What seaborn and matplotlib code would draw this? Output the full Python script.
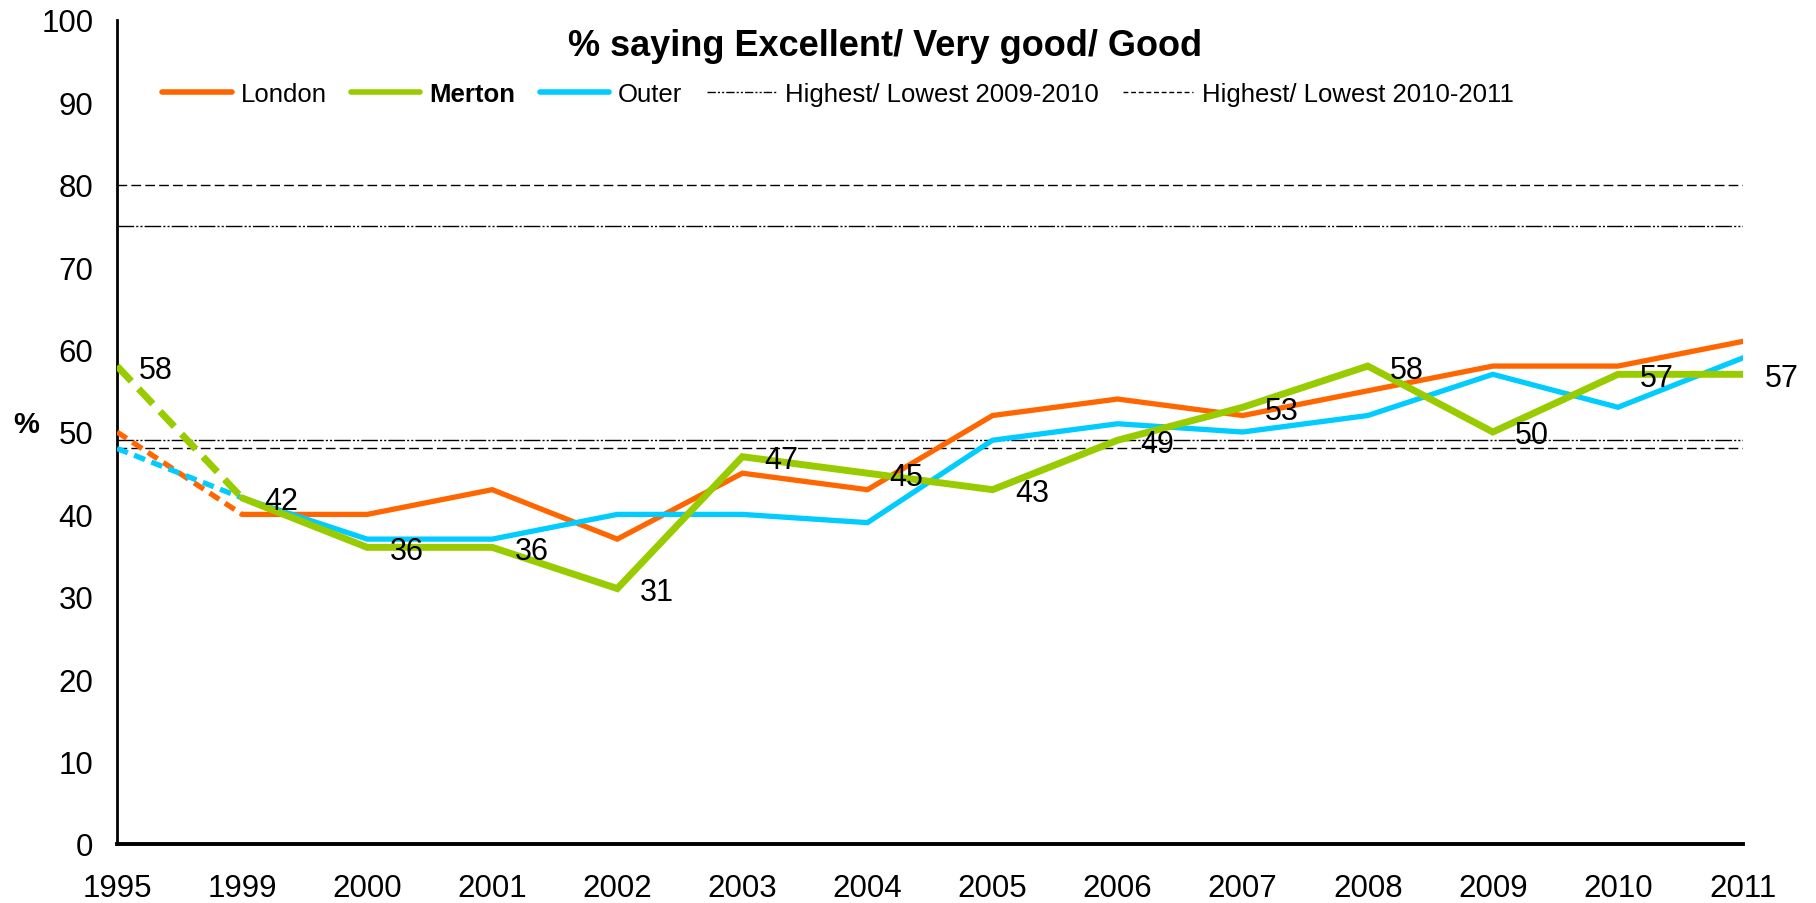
import numpy as np
import pandas as pd
import seaborn as sns
import matplotlib.pyplot as plt
from matplotlib.lines import Line2D

# Данные с графика
years = ['1995', '1999', '2000', '2001', '2002', '2003', '2004',
         '2005', '2006', '2007', '2008', '2009', '2010', '2011']
london = [50, 40, 40, 43, 37, 45, 43, 52, 54, 52, 55, 58, 58, 61]
merton = [58, 42, 36, 36, 31, 47, 45, 43, 49, 53, 58, 50, 57, 57]
outer = [48, 42, 37, 37, 40, 40, 39, 49, 51, 50, 52, 57, 53, 59]
band_0910 = [75, 49]   # Highest/ Lowest 2009-2010
band_1011 = [80, 48]   # Highest/ Lowest 2010-2011

COLORS = {'London': '#FF6600', 'Merton': '#99CC00', 'Outer': '#00CCFF'}
WIDTHS = {'London': 3.8, 'Merton': 5.0, 'Outer': 3.8}
GAP_DASH = {'London': (0, (2.2, 1.3)), 'Merton': (0, (3.0, 1.5)), 'Outer': (0, (2.2, 1.3))}
DASHDOT = (0, (12, 1.5, 1.5, 1.5, 1.5, 1.5))
DASHED = (0, (7, 3))

sns.set_style('white')
plt.rcParams['font.family'] = ['Liberation Sans', 'DejaVu Sans']
plt.rcParams['text.color'] = 'black'
plt.rcParams['axes.labelcolor'] = 'black'

df = pd.DataFrame({'pos': np.arange(len(years)), 'London': london,
                   'Merton': merton, 'Outer': outer})
long_df = df.melt(id_vars='pos', var_name='area', value_name='pct')

fig = plt.figure(figsize=(18.16, 9.04), dpi=100)
ax = fig.add_axes([117 / 1816, 1 - 845 / 904, 1626 / 1816, 824 / 904])

# Горизонтальные линии границ
for v in band_0910:
    ax.axhline(v, color='black', lw=1, linestyle=DASHDOT, zorder=1)
for v in band_1011:
    ax.axhline(v, color='black', lw=1, linestyle=DASHED, zorder=1)

# Линии: 1995-1999 пунктиром, дальше сплошная
for area in ['London', 'Outer', 'Merton']:
    sub = long_df[long_df['area'] == area]
    sns.lineplot(data=sub[sub['pos'] <= 1], x='pos', y='pct', ax=ax,
                 color=COLORS[area], lw=WIDTHS[area], linestyle=GAP_DASH[area],
                 legend=False, zorder=3)
    sns.lineplot(data=sub[sub['pos'] >= 1], x='pos', y='pct', ax=ax,
                 color=COLORS[area], lw=WIDTHS[area], legend=False, zorder=3,
                 solid_joinstyle='miter')

# Подписи значений Merton
for i, v in enumerate(merton):
    ax.annotate(str(v), (i, v), xytext=(16, 0), textcoords='offset points',
                ha='left', va='center_baseline', fontsize=22, zorder=4)

ax.set_xlim(0, len(years) - 1)
ax.set_ylim(0, 100)
ax.set_xticks(np.arange(len(years)))
ax.set_xticklabels(years)
ax.set_yticks(np.arange(0, 101, 10))
ax.tick_params(axis='both', direction='out', length=6, width=1.5,
               colors='black', labelsize=22.5)
ax.tick_params(axis='x', pad=15)
ax.tick_params(axis='y', pad=11)
ax.set_xlabel('')
ax.set_ylabel('%', rotation=0, fontsize=21, fontweight='bold', va='center')
ax.yaxis.set_label_coords((26 - 117) / 1626, 0.51)

sns.despine(ax=ax)
ax.spines['left'].set_linewidth(2)
ax.spines['bottom'].set_linewidth(2.8)
ax.spines['left'].set_color('black')
ax.spines['bottom'].set_color('black')

# Легенда
handles = [Line2D([], [], color=COLORS['London'], lw=4, solid_capstyle='round'),
           Line2D([], [], color=COLORS['Merton'], lw=4, solid_capstyle='round'),
           Line2D([], [], color=COLORS['Outer'], lw=4, solid_capstyle='round'),
           Line2D([], [], color='black', lw=1, linestyle=(0, (6, 1.5, 1.5, 1.5, 1.5, 1.5))),
           Line2D([], [], color='black', lw=1, linestyle=(0, (3.5, 2)))]
labels = ['London', 'Merton', 'Outer', 'Highest/ Lowest 2009-2010',
          'Highest/ Lowest 2010-2011']
leg = fig.legend(handles, labels, loc='center', ncol=5, frameon=False,
                 bbox_to_anchor=(838 / 1816, 1 - 95 / 904), fontsize=18.5,
                 handlelength=2.7, handletextpad=0.35, columnspacing=0.95)
leg.get_texts()[1].set_fontweight('bold')

fig.text(885 / 1816, 1 - 46 / 904, '% saying Excellent/ Very good/ Good',
         ha='center', va='center', fontsize=26, fontweight='bold')

fig.savefig('out.png', dpi=100)
